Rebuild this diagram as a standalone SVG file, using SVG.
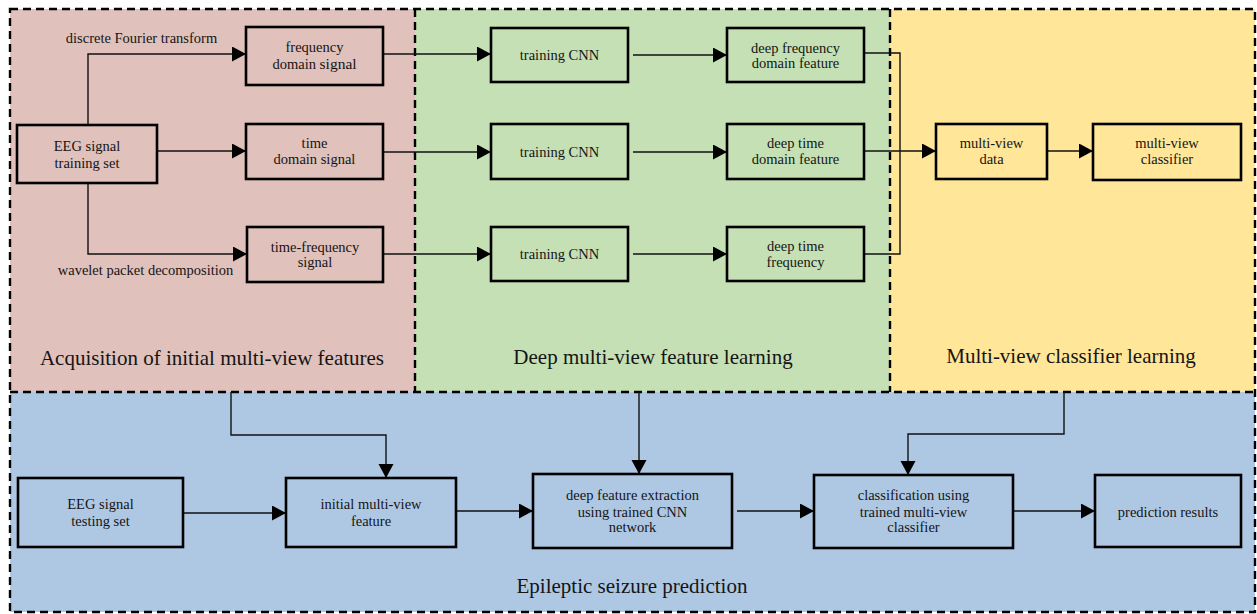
<svg xmlns="http://www.w3.org/2000/svg" width="1257" height="614" viewBox="0 0 1257 614">
<style>
.box{stroke:#000;stroke-width:2.6;}
.t{font-family:"Liberation Serif","Times New Roman",serif;font-size:14.5px;fill:#151515;text-anchor:middle;}
.big{font-family:"Liberation Serif","Times New Roman",serif;font-size:21px;fill:#151515;text-anchor:middle;}
.dash{fill:none;stroke:#000;stroke-width:2.4;stroke-dasharray:8 5;}
.c{fill:none;stroke:#111;stroke-width:1.4;}
.ca{fill:none;stroke:#111;stroke-width:1.4;marker-end:url(#arr);}
.pink{fill:#E0C1BB;}
.green{fill:#C5E0B4;}
.yellow{fill:#FFE699;}
.blue{fill:#AEC8E4;}
</style>
<defs>
<marker id="arr" markerUnits="userSpaceOnUse" markerWidth="15" markerHeight="16" refX="14" refY="7.5" orient="auto">
<path d="M0,0 L14,7.5 L0,15 z" fill="#000"/>
</marker>
</defs>
<rect width="1257" height="614" fill="#fff"/>
<g id="regions">
<rect class="pink" x="10" y="9" width="405" height="383"/>
<rect class="green" x="415" y="9" width="475" height="383"/>
<rect class="yellow" x="890" y="9" width="365" height="383"/>
<rect class="blue" x="10" y="392" width="1245" height="220"/>
<rect class="dash" x="10" y="9" width="1245" height="603"/>
<line class="dash" x1="10" y1="392" x2="1255" y2="392"/>
<line class="dash" x1="415" y1="9" x2="415" y2="392"/>
<line class="dash" x1="890" y1="9" x2="890" y2="392"/>
<text class="big" x="212" y="365">Acquisition of initial multi-view features</text>
<text class="big" x="653" y="364">Deep multi-view feature learning</text>
<text class="big" x="1071" y="363">Multi-view classifier learning</text>
<text class="big" x="632" y="593">Epileptic seizure prediction</text>
</g>
<g id="connectors">
<path class="ca" d="M88,125 V54 H246"/>
<path class="ca" d="M157,151 H246"/>
<path class="ca" d="M88,183 V254 H247"/>
<path class="ca" d="M383,54 H491"/>
<path class="ca" d="M383,152 H491"/>
<path class="ca" d="M383,254 H491"/>
<path class="ca" d="M633,55 H727"/>
<path class="ca" d="M633,152 H727"/>
<path class="ca" d="M633,254 H727"/>
<path class="c" d="M864,53 H900 V254 H864"/>
<path class="ca" d="M864,151 H936"/>
<path class="ca" d="M1047,151 H1093"/>
<path class="ca" d="M231,392 V435 H386 V478"/>
<path class="ca" d="M639,392 V474"/>
<path class="ca" d="M1064,392 V434 H908 V475"/>
<path class="ca" d="M183,513 H286"/>
<path class="ca" d="M456,511 H533"/>
<path class="ca" d="M737,511 H814"/>
<path class="ca" d="M1007,511 H1095"/>
<text class="t" x="141.5" y="43">discrete Fourier transform</text>
<text class="t" x="145.5" y="275">wavelet packet decomposition</text>
</g>
<g id="n-eeg-train">
<rect class="box pink" x="17" y="125" width="140" height="58"/>
<text class="t" x="87" y="151">EEG signal</text>
<text class="t" x="87" y="168">training set</text>
</g>
<g id="n-freq-signal">
<rect class="box pink" x="246" y="27" width="137" height="58"/>
<text class="t" x="314.5" y="52">frequency</text>
<text class="t" x="314.5" y="69">domain <tspan style="font-size:15.5px">signal</tspan></text>
</g>
<g id="n-time-signal">
<rect class="box pink" x="246" y="124" width="137" height="55"/>
<text class="t" x="314.5" y="148">time</text>
<text class="t" x="314.5" y="164">domain signal</text>
</g>
<g id="n-tf-signal">
<rect class="box pink" x="247" y="227" width="136" height="55"/>
<text class="t" x="315" y="252">time-frequency</text>
<text class="t" x="315" y="267">signal</text>
</g>
<g id="n-cnn1">
<rect class="box green" x="491" y="28" width="137" height="54"/>
<text class="t" x="559.5" y="60">training CNN</text>
</g>
<g id="n-cnn2">
<rect class="box green" x="491" y="124" width="137" height="55"/>
<text class="t" x="559.5" y="157">training CNN</text>
</g>
<g id="n-cnn3">
<rect class="box green" x="491" y="227" width="137" height="54"/>
<text class="t" x="559.5" y="259">training CNN</text>
</g>
<g id="n-deep-freq">
<rect class="box green" x="727" y="28" width="137" height="54"/>
<text class="t" x="795.5" y="53">deep frequency</text>
<text class="t" x="795.5" y="68">domain feature</text>
</g>
<g id="n-deep-time">
<rect class="box green" x="727" y="124" width="137" height="55"/>
<text class="t" x="795.5" y="148">deep time</text>
<text class="t" x="795.5" y="164">domain feature</text>
</g>
<g id="n-deep-tf">
<rect class="box green" x="727" y="227" width="137" height="54"/>
<text class="t" x="795.5" y="251">deep time</text>
<text class="t" x="795.5" y="267">frequency</text>
</g>
<g id="n-mv-data">
<rect class="box yellow" x="936" y="124" width="111" height="55"/>
<text class="t" x="991.5" y="148">multi-view</text>
<text class="t" x="991.5" y="164">data</text>
</g>
<g id="n-mv-classifier">
<rect class="box yellow" x="1093" y="124" width="148" height="56"/>
<text class="t" x="1167" y="148">multi-view</text>
<text class="t" x="1167" y="164">classifier</text>
</g>
<g id="n-eeg-test">
<rect class="box blue" x="18" y="478" width="165" height="69"/>
<text class="t" x="100.5" y="509">EEG signal</text>
<text class="t" x="100.5" y="526">testing set</text>
</g>
<g id="n-initial">
<rect class="box blue" x="286" y="478" width="170" height="69"/>
<text class="t" x="371" y="509">initial multi-view</text>
<text class="t" x="371" y="526">feature</text>
</g>
<g id="n-deep-extract">
<rect class="box blue" x="533" y="474" width="199" height="74"/>
<text class="t" x="632.5" y="500">deep feature extraction</text>
<text class="t" x="632.5" y="517">using trained CNN</text>
<text class="t" x="632.5" y="532">network</text>
</g>
<g id="n-classify">
<rect class="box blue" x="814" y="475" width="199" height="73"/>
<text class="t" x="913.5" y="500">classification using</text>
<text class="t" x="913.5" y="517">trained multi-view</text>
<text class="t" x="913.5" y="532">classifier</text>
</g>
<g id="n-pred">
<rect class="box blue" x="1095" y="475" width="146" height="72"/>
<text class="t" x="1168" y="517">prediction results</text>
</g>
</svg>
